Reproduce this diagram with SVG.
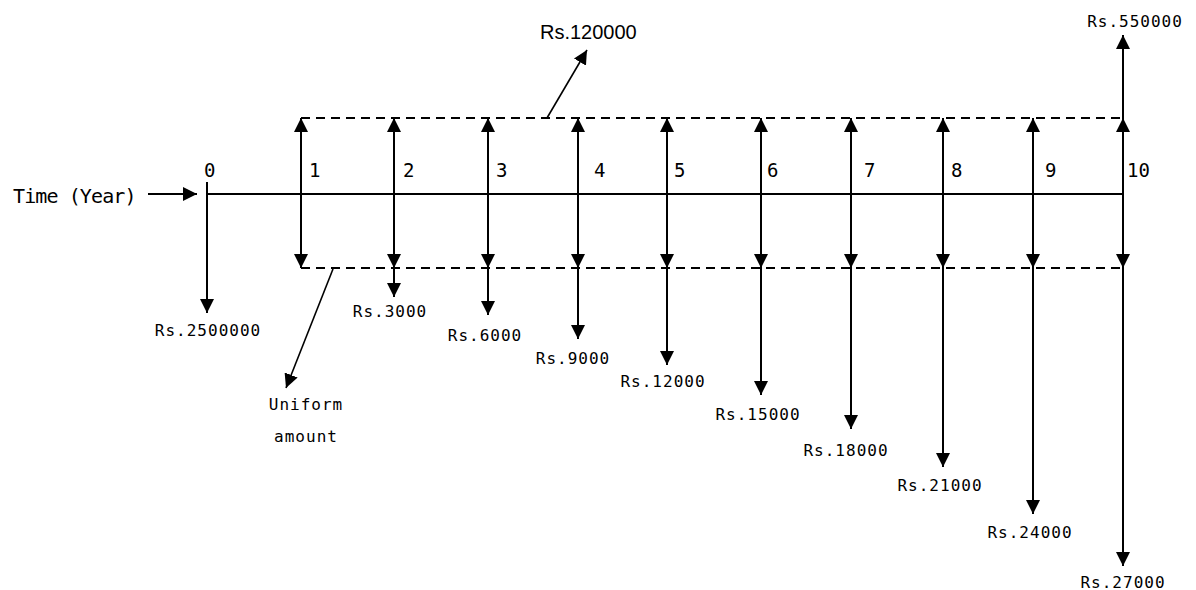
<svg xmlns="http://www.w3.org/2000/svg" width="1196" height="590" viewBox="0 0 1196 590">
<style>
.ln{stroke:#000;stroke-width:2;fill:none}
.dl{stroke:#000;stroke-width:2;fill:none;stroke-dasharray:9 6}
.dg{stroke:#000;stroke-width:1.6;fill:none}
.yr{font-family:"DejaVu Sans Mono","Liberation Mono",monospace;font-size:19px;fill:#000}
.amt{font-family:"DejaVu Sans Mono","Liberation Mono",monospace;font-size:16px;letter-spacing:1px;fill:#000;text-anchor:middle}
.big{font-family:"Liberation Sans",Arial,sans-serif;font-size:20px;fill:#000}
</style>
<defs>
<marker id="ah" markerUnits="userSpaceOnUse" markerWidth="15" markerHeight="14" refX="14" refY="7" orient="auto-start-reverse" viewBox="0 0 15 14">
<path d="M0,0 L14,7 L0,14 z" fill="#000"/>
</marker>
</defs>
<rect width="1196" height="590" fill="#fff"/>
<g id="connectors">
<line class="ln" x1="207" y1="194" x2="1123" y2="194"/>
<line class="ln" x1="148" y1="194" x2="197" y2="194" marker-end="url(#ah)"/>
<line class="dl" x1="301" y1="118" x2="1123" y2="118"/>
<line class="dl" x1="301" y1="268" x2="1123" y2="268"/>
<line class="ln" x1="207" y1="182" x2="207" y2="313" marker-end="url(#ah)"/>
<line class="ln" x1="301" y1="118" x2="301" y2="268" marker-start="url(#ah)" marker-end="url(#ah)"/>
<line class="ln" x1="394" y1="118" x2="394" y2="268" marker-start="url(#ah)" marker-end="url(#ah)"/>
<line class="ln" x1="394" y1="268" x2="394" y2="297" marker-end="url(#ah)"/>
<line class="ln" x1="488" y1="118" x2="488" y2="268" marker-start="url(#ah)" marker-end="url(#ah)"/>
<line class="ln" x1="488" y1="268" x2="488" y2="315" marker-end="url(#ah)"/>
<line class="ln" x1="578" y1="118" x2="578" y2="268" marker-start="url(#ah)" marker-end="url(#ah)"/>
<line class="ln" x1="578" y1="268" x2="578" y2="339" marker-end="url(#ah)"/>
<line class="ln" x1="667" y1="118" x2="667" y2="268" marker-start="url(#ah)" marker-end="url(#ah)"/>
<line class="ln" x1="667" y1="268" x2="667" y2="365" marker-end="url(#ah)"/>
<line class="ln" x1="761" y1="118" x2="761" y2="268" marker-start="url(#ah)" marker-end="url(#ah)"/>
<line class="ln" x1="761" y1="268" x2="761" y2="395" marker-end="url(#ah)"/>
<line class="ln" x1="851" y1="118" x2="851" y2="268" marker-start="url(#ah)" marker-end="url(#ah)"/>
<line class="ln" x1="851" y1="268" x2="851" y2="429" marker-end="url(#ah)"/>
<line class="ln" x1="943" y1="118" x2="943" y2="268" marker-start="url(#ah)" marker-end="url(#ah)"/>
<line class="ln" x1="943" y1="268" x2="943" y2="467" marker-end="url(#ah)"/>
<line class="ln" x1="1033" y1="118" x2="1033" y2="268" marker-start="url(#ah)" marker-end="url(#ah)"/>
<line class="ln" x1="1033" y1="268" x2="1033" y2="514" marker-end="url(#ah)"/>
<line class="ln" x1="1123" y1="118" x2="1123" y2="268" marker-start="url(#ah)" marker-end="url(#ah)"/>
<line class="ln" x1="1123" y1="268" x2="1123" y2="566" marker-end="url(#ah)"/>
<line class="ln" x1="1123" y1="118" x2="1123" y2="35" marker-end="url(#ah)"/>
<line class="dg" x1="547" y1="118" x2="587" y2="50" marker-end="url(#ah)"/>
<line class="dg" x1="333" y1="269" x2="286" y2="388" marker-end="url(#ah)"/>
</g>
<g id="time-label"><text x="13" y="203" font-family="'DejaVu Sans Mono','Liberation Mono',monospace" font-size="20" letter-spacing="-0.9">Time (Year)</text></g>
<g id="year-0"><text class="yr" x="204" y="177">0</text><text class="amt" x="208" y="336">Rs.2500000</text></g>
<g id="year-1"><text class="yr" x="309" y="177">1</text></g>
<g id="year-2"><text class="yr" x="403" y="177">2</text><text class="amt" x="390" y="317">Rs.3000</text></g>
<g id="year-3"><text class="yr" x="496" y="177">3</text><text class="amt" x="485" y="341">Rs.6000</text></g>
<g id="year-4"><text class="yr" x="594" y="177">4</text><text class="amt" x="573" y="364">Rs.9000</text></g>
<g id="year-5"><text class="yr" x="674" y="177">5</text><text class="amt" x="663" y="387">Rs.12000</text></g>
<g id="year-6"><text class="yr" x="767" y="177">6</text><text class="amt" x="758" y="420">Rs.15000</text></g>
<g id="year-7"><text class="yr" x="864" y="177">7</text><text class="amt" x="846" y="456">Rs.18000</text></g>
<g id="year-8"><text class="yr" x="951" y="177">8</text><text class="amt" x="940" y="491">Rs.21000</text></g>
<g id="year-9"><text class="yr" x="1045" y="177">9</text><text class="amt" x="1030" y="538">Rs.24000</text></g>
<g id="year-10"><text class="yr" x="1127" y="177">10</text><text class="amt" x="1123" y="588">Rs.27000</text><text class="amt" x="1135" y="27">Rs.550000</text></g>
<g id="annual-income"><text class="big" x="540" y="39">Rs.120000</text></g>
<g id="uniform-amount"><text class="amt" x="306" y="410">Uniform</text><text class="amt" x="306" y="442">amount</text></g>
</svg>
